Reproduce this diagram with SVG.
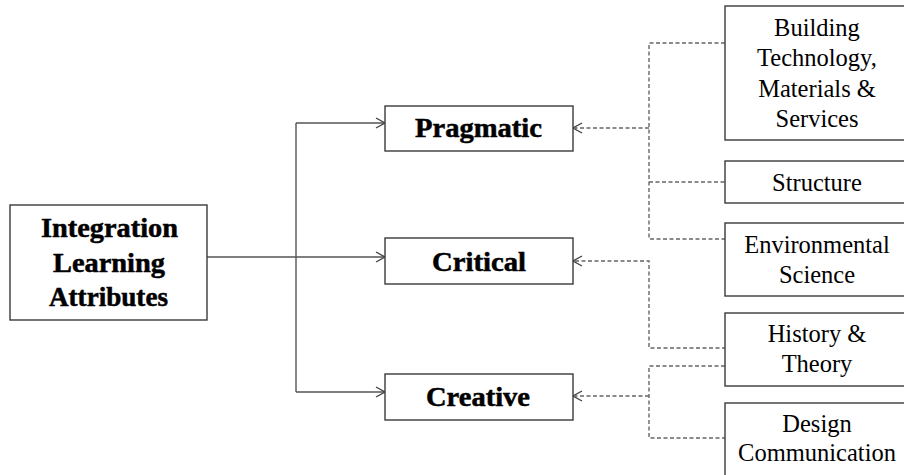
<svg xmlns="http://www.w3.org/2000/svg" width="904" height="475" viewBox="0 0 904 475">
<style>
.box{fill:#fff;stroke:#3a3a3a;stroke-width:1.4}
.b{font-family:"Liberation Serif","Times New Roman",serif;font-weight:bold;font-size:26.5px;fill:#000;stroke:#000;stroke-width:0.5;text-anchor:middle}
.r{font-family:"Liberation Serif","Times New Roman",serif;font-size:24.5px;fill:#000;text-anchor:middle}
.solid{fill:none;stroke:#555;stroke-width:1.4}
.dash{fill:none;stroke:#666;stroke-width:1.4;stroke-dasharray:4 2.5}
.head{fill:none;stroke:#444;stroke-width:1.4}
</style>
<rect width="904" height="475" fill="#fff"/>
<g id="connectors">
<path class="solid" d="M207 257 H384 M296 123 V392 M296 123 H384 M296 392 H384"/>
<path class="head" d="M376 118 L385 123 L376 128 M376 252 L385 257 L376 262 M376 387 L385 392 L376 397"/>
<path class="dash" d="M725 43 H649 V239 H725 M649 128 H575 M649 182 H725"/>
<path class="dash" d="M575 261 H649 V348 H725"/>
<path class="dash" d="M725 366 H649 V438 H725 M649 396 H575"/>
<path class="head" d="M582 123 L573 128 L582 133 M582 256 L573 261 L582 266 M582 391 L573 396 L582 401"/>
</g>
<g id="integration">
<rect class="box" x="10" y="205" width="197" height="115"/>
<text class="b" x="109.5" y="237" textLength="137" lengthAdjust="spacingAndGlyphs">Integration</text>
<text class="b" x="109" y="271.5" textLength="112" lengthAdjust="spacingAndGlyphs">Learning</text>
<text class="b" x="108.5" y="306" textLength="119" lengthAdjust="spacingAndGlyphs">Attributes</text>
</g>
<g id="pragmatic">
<rect class="box" x="385" y="106" width="188" height="45"/>
<text class="b" x="478.5" y="137" textLength="127" lengthAdjust="spacingAndGlyphs">Pragmatic</text>
</g>
<g id="critical">
<rect class="box" x="385" y="238" width="188" height="46"/>
<text class="b" x="479" y="271" textLength="94" lengthAdjust="spacingAndGlyphs">Critical</text>
</g>
<g id="creative">
<rect class="box" x="385" y="374" width="188" height="46"/>
<text class="b" x="478" y="406" textLength="104" lengthAdjust="spacingAndGlyphs">Creative</text>
</g>
<g id="building">
<rect class="box" x="725" y="6" width="190" height="134"/>
<text class="r" x="817" y="35.5">Building</text>
<text class="r" x="817" y="66">Technology,</text>
<text class="r" x="817" y="96.5">Materials &amp;</text>
<text class="r" x="817" y="126.5">Services</text>
</g>
<g id="structure">
<rect class="box" x="725" y="161" width="190" height="42"/>
<text class="r" x="817" y="191">Structure</text>
</g>
<g id="environmental">
<rect class="box" x="725" y="223" width="190" height="73"/>
<text class="r" x="817" y="253">Environmental</text>
<text class="r" x="817" y="283">Science</text>
</g>
<g id="history">
<rect class="box" x="725" y="313" width="190" height="73"/>
<text class="r" x="817" y="342">History &amp;</text>
<text class="r" x="817" y="372">Theory</text>
</g>
<g id="design">
<rect class="box" x="725" y="403" width="190" height="80"/>
<text class="r" x="817" y="432">Design</text>
<text class="r" x="817" y="461">Communication</text>
</g>
</svg>
